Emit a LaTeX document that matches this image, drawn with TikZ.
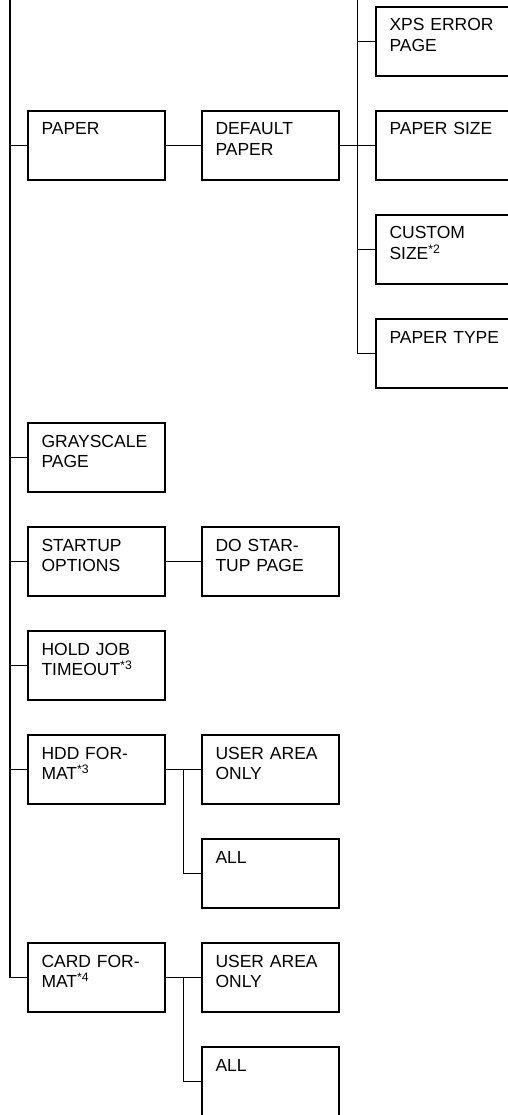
\documentclass[tikz,border=0pt]{standalone}
\usepackage{fontspec}
\setmainfont{Liberation Sans}
\usetikzlibrary{positioning,calc}
\tikzset{
  menubox/.style={draw,line width=1.5pt,rectangle,align=left,outer sep=0pt,
    minimum width=137pt,minimum height=69pt,text width=110pt,
    inner xsep=13.5pt,inner ysep=11.5pt,text height=12.5pt,text depth=33.5pt,
    font=\fontsize{17.5}{20.5}\selectfont},
  menuline/.style={line width=1.5pt}
}

\begin{document}
\begin{tikzpicture}[x=1pt,y=1pt,node distance=35pt and 37pt]
  \clip (0,0) rectangle (508,-1115);
  \coordinate (top) at (0,0);
  \coordinate (trunk) at (10,0);
  % menu boxes
  \node[menubox,anchor=north west] (paper) at (28,-111) {PAPER};
  \node[menubox,right=of paper] (defpaper) {DEFAULT\\PAPER};
  \node[menubox,right=of defpaper] (psize) {PAPER SIZE};
  \node[menubox,above=of psize] (xps) {XPS ERROR\\PAGE};
  \node[menubox,below=of psize] (custom) {CUSTOM\\SIZE\textsuperscript{*2}};
  \node[menubox,below=of custom] (ptype) {PAPER TYPE};
  \node[menubox,anchor=north west] (gray) at (28,-423) {GRAYSCALE\\PAGE};
  \node[menubox,below=of gray] (startup) {STARTUP\\OPTIONS};
  \node[menubox,right=of startup] (dostartup) {DO STAR-\\TUP PAGE};
  \node[menubox,below=of startup] (holdjob) {HOLD JOB\\TIMEOUT\textsuperscript{*3}};
  \node[menubox,below=of holdjob] (hdd) {HDD FOR-\\MAT\textsuperscript{*3}};
  \node[menubox,right=of hdd] (hdduser) {USER AREA\\ONLY};
  \node[menubox,below=of hdduser] (hddall) {ALL};
  \node[menubox,anchor=north west] (card) at (28,-943) {CARD FOR-\\MAT\textsuperscript{*4}};
  \node[menubox,right=of card] (carduser) {USER AREA\\ONLY};
  \node[menubox,below=of carduser] (cardall) {ALL};
  % main trunk
  \draw[menuline] (trunk) |- (card.west);
  \foreach \n in {paper,gray,startup,holdjob,hdd}
    \draw[menuline] (\n.west) -- (\n.west -| trunk);
  \draw[menuline] (paper) -- (defpaper);
  \draw[menuline] (startup) -- (dostartup);
  % paper submenu
  \coordinate (papersplit) at ($(defpaper.east)!0.5!(psize.west)$);
  \draw[menuline] (defpaper) -- (psize);
  \draw[menuline] (papersplit |- top) |- (ptype.west);
  \foreach \n in {xps,custom}
    \draw[menuline] (\n.west) -- (\n.west -| papersplit);
  % format submenus
  \coordinate (hddsplit) at ($(hdd.east)!0.5!(hdduser.west)$);
  \draw[menuline] (hdd) -- (hdduser);
  \draw[menuline] (hddsplit) |- (hddall.west);
  \coordinate (cardsplit) at ($(card.east)!0.5!(carduser.west)$);
  \draw[menuline] (card) -- (carduser);
  \draw[menuline] (cardsplit) |- (cardall.west);
\end{tikzpicture}
\end{document}
